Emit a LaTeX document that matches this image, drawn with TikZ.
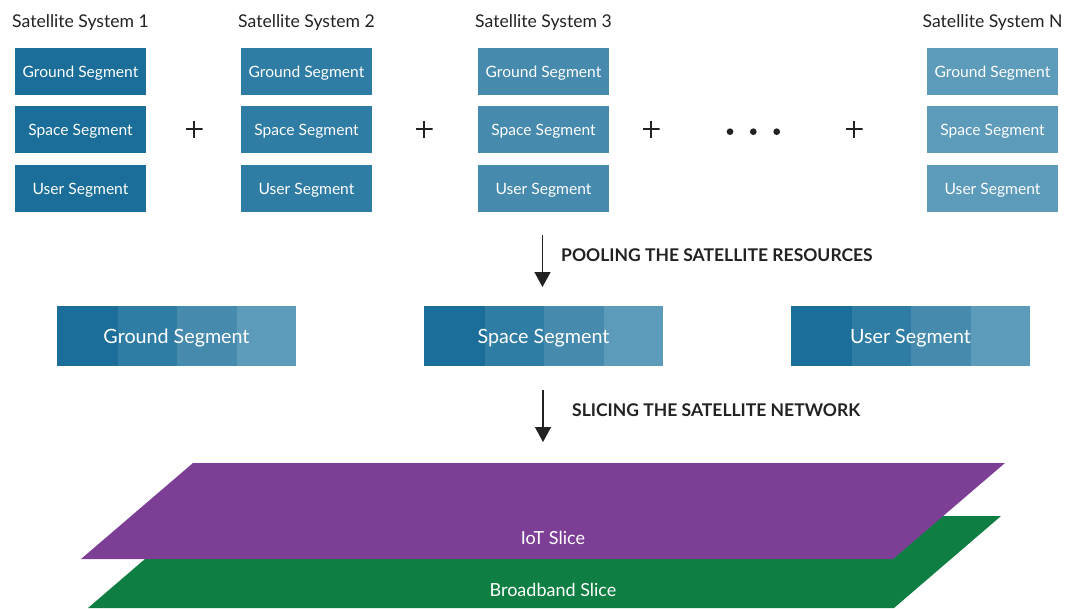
\documentclass[tikz,border=0pt]{standalone}
\usepackage{fontspec}
\setmainfont{Lato}
\usetikzlibrary{arrows.meta}
\definecolor{cA}{HTML}{1A6E99}
\definecolor{cB}{HTML}{2F7DA5}
\definecolor{cC}{HTML}{468AAE}
\definecolor{cD}{HTML}{5D9BBB}
\definecolor{iotc}{HTML}{7D3F96}
\definecolor{bbc}{HTML}{0F7E42}
\definecolor{ink}{HTML}{222222}
\begin{document}
\begin{tikzpicture}[x=1pt,y=-1pt,
  seg/.style={minimum width=131pt,minimum height=47pt,inner sep=0pt,text depth=0pt,text=white,font=\fontsize{15.6}{17}\selectfont},
  systitle/.style={text=ink,yshift=-2pt,font=\fontsize{17.6}{19}\selectfont},
  plussign/.style={minimum size=17pt,inner sep=0pt,path picture={
      \draw[ink,line width=2pt] (path picture bounding box.north) -- (path picture bounding box.south)
        (path picture bounding box.west) -- (path picture bounding box.east);}},
  dotmark/.style={circle,fill=ink,inner sep=0pt,minimum size=6.7pt},
  poolpart/.style={minimum width=60.5pt,minimum height=60pt,inner sep=0pt,anchor=west},
  poollabel/.style={text=white,yshift=-2pt,font=\fontsize{19.7}{21}\selectfont},
  steplabel/.style={text=ink,anchor=west,inner sep=0pt,font=\bfseries\fontsize{17.5}{19}\selectfont},
  flow/.style={draw=ink,line width=1.4pt,-{Triangle[width=16pt,length=15pt]}},
  slicelabel/.style={text=white,yshift=-1.5pt,font=\fontsize{18}{20}\selectfont}]
\useasboundingbox (0,0) rectangle (1067,608);

% system columns
\foreach \name/\x/\c/\t in {s1/80.5/cA/1, s2/306.5/cB/2, s3/543.5/cC/3, sn/992.5/cD/N}{
  \node[systitle] (\name t) at (\x,21) {Satellite System \t};
  \node[seg,fill=\c] (\name g) at (\x,71.5) {Ground Segment};
  \node[seg,fill=\c] (\name s) at (\x,129.5) {Space Segment};
  \node[seg,fill=\c] (\name u) at (\x,188.5) {User Segment};
}
\node[plussign] (p1) at (194,129) {};
\node[plussign] (p2) at (424,129) {};
\node[plussign] (p3) at (651,129) {};
\node[plussign] (p4) at (854,129) {};
\node[dotmark] (d1) at (730,131.7) {};
\node[dotmark] (d2) at (753.3,131.7) {};
\node[dotmark] (d3) at (776.7,131.7) {};

% pooled bars
\foreach \name/\x/\t in {pg/57/Ground Segment, ps/424/Space Segment, pu/791/User Segment}{
  \node[poolpart,fill=cD] (\name4) at (\x+178.5,336) {};
  \node[poolpart,fill=cC] (\name3) at (\x+119,336) {};
  \node[poolpart,fill=cB] (\name2) at (\x+59.5,336) {};
  \node[poolpart,fill=cA] (\name1) at (\x,336) {};
  \node[poollabel] (\name) at (\x+119.5,336) {\t};
}

% arrows
\coordinate (a1s) at (542.5,235);
\coordinate (a1e) at (542.5,287);
\draw[flow] (a1s) -- (a1e);
\node[steplabel] (l1) at (561,255) {POOLING THE SATELLITE RESOURCES};
\coordinate (a2s) at (543,390);
\coordinate (a2e) at (543,442);
\draw[flow] (a2s) -- (a2e);
\node[steplabel] (l2) at (572,410) {SLICING THE SATELLITE NETWORK};

% slices
\fill[bbc] (195,516) -- (1001,516) -- (894,608) -- (88,608) -- cycle;
\fill[iotc] (193,463) -- (1005,463) -- (893,559) -- (81,559) -- cycle;
\node[slicelabel] (iot) at (553,536) {IoT Slice};
\node[slicelabel] (bb) at (553,588) {Broadband Slice};
\end{tikzpicture}
\end{document}
